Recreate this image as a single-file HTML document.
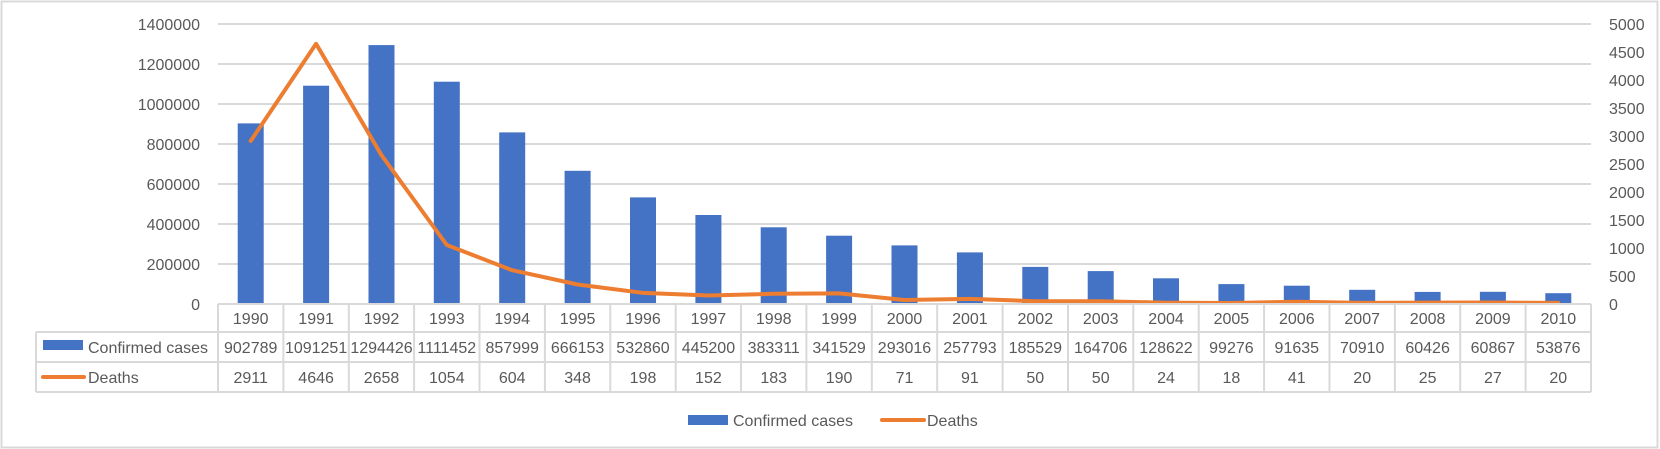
<!DOCTYPE html>
<html><head><meta charset="utf-8"><style>
html,body{margin:0;padding:0;background:#fff;}
svg{display:block;font-family:"Liberation Sans",sans-serif;}
text{fill:#595959;font-size:16px;}
</style></head><body>
<svg width="1660" height="449" viewBox="0 0 1660 449">
<rect x="1.5" y="1.5" width="1656" height="446" fill="#fff" stroke="#d9d9d9" stroke-width="2"/>
<g stroke="#d9d9d9" stroke-width="2">
<line x1="218" y1="24" x2="1591" y2="24"/><line x1="218" y1="64" x2="1591" y2="64"/>
<line x1="218" y1="104" x2="1591" y2="104"/><line x1="218" y1="144" x2="1591" y2="144"/>
<line x1="218" y1="184" x2="1591" y2="184"/><line x1="218" y1="224" x2="1591" y2="224"/>
<line x1="218" y1="264" x2="1591" y2="264"/>
</g>
<g text-anchor="end">
<text x="200" y="30">1400000</text><text x="200" y="70">1200000</text><text x="200" y="110">1000000</text>
<text x="200" y="150">800000</text><text x="200" y="190">600000</text><text x="200" y="230">400000</text>
<text x="200" y="270">200000</text><text x="200" y="310">0</text>
</g>
<g>
<text x="1609" y="30">5000</text><text x="1609" y="58">4500</text><text x="1609" y="86">4000</text>
<text x="1609" y="114">3500</text><text x="1609" y="142">3000</text><text x="1609" y="170">2500</text>
<text x="1609" y="198">2000</text><text x="1609" y="226">1500</text><text x="1609" y="254">1000</text>
<text x="1609" y="282">500</text><text x="1609" y="310">0</text>
</g>
<g fill="#4472c4">
<rect x="237.7" y="123.4" width="26" height="180.6"/>
<rect x="303.1" y="85.7" width="26" height="218.3"/>
<rect x="368.5" y="45.1" width="26" height="258.9"/>
<rect x="433.8" y="81.7" width="26" height="222.3"/>
<rect x="499.2" y="132.4" width="26" height="171.6"/>
<rect x="564.6" y="170.8" width="26" height="133.2"/>
<rect x="630" y="197.4" width="26" height="106.6"/>
<rect x="695.4" y="215" width="26" height="89"/>
<rect x="760.7" y="227.3" width="26" height="76.7"/>
<rect x="826.1" y="235.7" width="26" height="68.3"/>
<rect x="891.5" y="245.4" width="26" height="58.6"/>
<rect x="956.9" y="252.4" width="26" height="51.6"/>
<rect x="1022.3" y="266.9" width="26" height="37.1"/>
<rect x="1087.7" y="271.1" width="26" height="32.9"/>
<rect x="1153" y="278.3" width="26" height="25.7"/>
<rect x="1218.4" y="284.1" width="26" height="19.9"/>
<rect x="1283.8" y="285.7" width="26" height="18.3"/>
<rect x="1349.2" y="289.8" width="26" height="14.2"/>
<rect x="1414.6" y="291.9" width="26" height="12.1"/>
<rect x="1479.9" y="291.8" width="26" height="12.2"/>
<rect x="1545.3" y="293.2" width="26" height="10.8"/>
</g>
<polyline fill="none" stroke="#ed7d31" stroke-width="4" stroke-linejoin="round" stroke-linecap="round" points="250.7,141 316.1,43.8 381.5,155.2 446.8,245 512.2,270.2 577.6,284.5 643,292.9 708.4,295.5 773.7,293.8 839.1,293.4 904.5,300 969.9,298.9 1035.3,301.2 1100.7,301.2 1166,302.7 1231.4,303 1296.8,301.7 1362.2,302.9 1427.6,302.6 1492.9,302.5 1558.3,302.9"/>
<g stroke="#d9d9d9" stroke-width="2">
<line x1="218" y1="304" x2="1591" y2="304"/>
<line x1="36" y1="332" x2="1591" y2="332"/>
<line x1="36" y1="362" x2="1591" y2="362"/>
<line x1="36" y1="392" x2="1591" y2="392"/>
<line x1="36" y1="332" x2="36" y2="392"/>
<line x1="218" y1="304" x2="218" y2="392"/><line x1="283.4" y1="304" x2="283.4" y2="392"/>
<line x1="348.8" y1="304" x2="348.8" y2="392"/><line x1="414.1" y1="304" x2="414.1" y2="392"/>
<line x1="479.5" y1="304" x2="479.5" y2="392"/><line x1="544.9" y1="304" x2="544.9" y2="392"/>
<line x1="610.3" y1="304" x2="610.3" y2="392"/><line x1="675.7" y1="304" x2="675.7" y2="392"/>
<line x1="741" y1="304" x2="741" y2="392"/><line x1="806.4" y1="304" x2="806.4" y2="392"/>
<line x1="871.8" y1="304" x2="871.8" y2="392"/><line x1="937.2" y1="304" x2="937.2" y2="392"/>
<line x1="1002.6" y1="304" x2="1002.6" y2="392"/><line x1="1068" y1="304" x2="1068" y2="392"/>
<line x1="1133.3" y1="304" x2="1133.3" y2="392"/><line x1="1198.7" y1="304" x2="1198.7" y2="392"/>
<line x1="1264.1" y1="304" x2="1264.1" y2="392"/><line x1="1329.5" y1="304" x2="1329.5" y2="392"/>
<line x1="1394.9" y1="304" x2="1394.9" y2="392"/><line x1="1460.2" y1="304" x2="1460.2" y2="392"/>
<line x1="1525.6" y1="304" x2="1525.6" y2="392"/><line x1="1591" y1="304" x2="1591" y2="392"/>
</g>
<rect x="43" y="340" width="40" height="10" fill="#4472c4"/>
<text x="88" y="353">Confirmed cases</text>
<line x1="43" y1="377" x2="84" y2="377" stroke="#ed7d31" stroke-width="4" stroke-linecap="round"/>
<text x="88" y="383">Deaths</text>
<g text-anchor="middle">
<text x="250.7" y="324">1990</text><text x="316.1" y="324">1991</text><text x="381.5" y="324">1992</text><text x="446.8" y="324">1993</text><text x="512.2" y="324">1994</text><text x="577.6" y="324">1995</text><text x="643" y="324">1996</text><text x="708.4" y="324">1997</text><text x="773.7" y="324">1998</text><text x="839.1" y="324">1999</text><text x="904.5" y="324">2000</text><text x="969.9" y="324">2001</text><text x="1035.3" y="324">2002</text><text x="1100.7" y="324">2003</text><text x="1166" y="324">2004</text><text x="1231.4" y="324">2005</text><text x="1296.8" y="324">2006</text><text x="1362.2" y="324">2007</text><text x="1427.6" y="324">2008</text><text x="1492.9" y="324">2009</text><text x="1558.3" y="324">2010</text>
<text x="250.7" y="353">902789</text><text x="316.1" y="353">1091251</text><text x="381.5" y="353">1294426</text><text x="446.8" y="353">1111452</text><text x="512.2" y="353">857999</text><text x="577.6" y="353">666153</text><text x="643" y="353">532860</text><text x="708.4" y="353">445200</text><text x="773.7" y="353">383311</text><text x="839.1" y="353">341529</text><text x="904.5" y="353">293016</text><text x="969.9" y="353">257793</text><text x="1035.3" y="353">185529</text><text x="1100.7" y="353">164706</text><text x="1166" y="353">128622</text><text x="1231.4" y="353">99276</text><text x="1296.8" y="353">91635</text><text x="1362.2" y="353">70910</text><text x="1427.6" y="353">60426</text><text x="1492.9" y="353">60867</text><text x="1558.3" y="353">53876</text>
<text x="250.7" y="383">2911</text><text x="316.1" y="383">4646</text><text x="381.5" y="383">2658</text><text x="446.8" y="383">1054</text><text x="512.2" y="383">604</text><text x="577.6" y="383">348</text><text x="643" y="383">198</text><text x="708.4" y="383">152</text><text x="773.7" y="383">183</text><text x="839.1" y="383">190</text><text x="904.5" y="383">71</text><text x="969.9" y="383">91</text><text x="1035.3" y="383">50</text><text x="1100.7" y="383">50</text><text x="1166" y="383">24</text><text x="1231.4" y="383">18</text><text x="1296.8" y="383">41</text><text x="1362.2" y="383">20</text><text x="1427.6" y="383">25</text><text x="1492.9" y="383">27</text><text x="1558.3" y="383">20</text>
</g>
<rect x="688" y="415" width="40" height="10" fill="#4472c4"/>
<text x="733" y="426">Confirmed cases</text>
<line x1="882" y1="420" x2="924" y2="420" stroke="#ed7d31" stroke-width="4" stroke-linecap="round"/>
<text x="927" y="426">Deaths</text>
</svg>
</body></html>
